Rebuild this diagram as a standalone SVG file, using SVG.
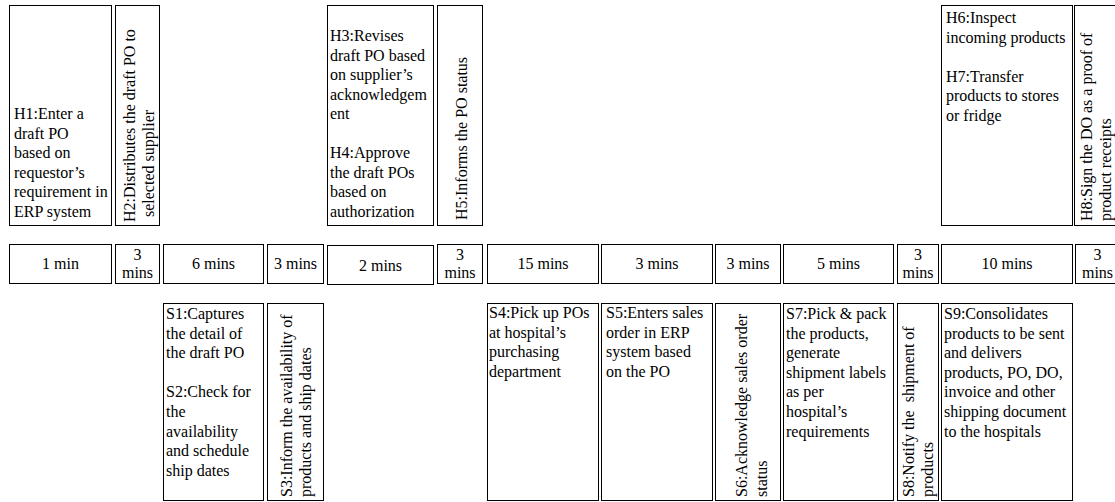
<svg xmlns="http://www.w3.org/2000/svg" width="1115" height="502" viewBox="0 0 1115 502">
  <style>
    .box { fill: #fff; stroke: #000; stroke-width: 1; }
    .t { font-family: "Liberation Serif", "Times New Roman", serif; font-size: 16px; fill: #000; }
    .c { text-anchor: middle; }
  </style>
  <rect width="1115" height="502" fill="#fff"/>

  <!-- Hospital activities (top row) -->
  <g id="h1">
    <rect class="box" x="9.5" y="5.5" width="102" height="220"/>
    <text class="t" x="14" y="119">
      <tspan x="14">H1:Enter a</tspan>
      <tspan x="14" dy="19.6">draft PO</tspan>
      <tspan x="14" dy="19.6">based on</tspan>
      <tspan x="14" dy="19.6">requestor’s</tspan>
      <tspan x="14" dy="19.6">requirement in</tspan>
      <tspan x="14" dy="19.6">ERP system</tspan>
    </text>
  </g>
  <g id="h2">
    <rect class="box" x="115.5" y="5.5" width="44" height="220"/>
    <text class="t" transform="translate(134.5,222) rotate(-90)">
      <tspan x="0" y="0">H2:Distributes the draft PO to</tspan>
      <tspan x="5" y="19.5">selected supplier</tspan>
    </text>
  </g>
  <g id="h3-h4">
    <rect class="box" x="327.5" y="5.5" width="106" height="220"/>
    <text class="t" x="330" y="41">
      <tspan x="330">H3:Revises</tspan>
      <tspan x="330" dy="19.5">draft PO based</tspan>
      <tspan x="330" dy="19.5">on supplier’s</tspan>
      <tspan x="330" dy="19.5">acknowledgem</tspan>
      <tspan x="330" dy="19.5">ent</tspan>
      <tspan x="330" dy="39">H4:Approve</tspan>
      <tspan x="330" dy="19.5">the draft POs</tspan>
      <tspan x="330" dy="19.5">based on</tspan>
      <tspan x="330" dy="19.5">authorization</tspan>
    </text>
  </g>
  <g id="h5">
    <rect class="box" x="437.5" y="5.5" width="45" height="220"/>
    <text class="t" transform="translate(466.5,220) rotate(-90)">H5:Informs the PO status</text>
  </g>
  <g id="h6-h7">
    <rect class="box" x="941.5" y="5.5" width="131" height="220"/>
    <text class="t" x="946" y="23">
      <tspan x="946">H6:Inspect</tspan>
      <tspan x="946" dy="19.5">incoming products</tspan>
      <tspan x="946" dy="39">H7:Transfer</tspan>
      <tspan x="946" dy="19.5">products to stores</tspan>
      <tspan x="946" dy="19.5">or fridge</tspan>
    </text>
  </g>
  <g id="h8">
    <rect class="box" x="1074.5" y="5.5" width="45" height="220"/>
    <text class="t" transform="translate(1091.5,221) rotate(-90)">
      <tspan x="0" y="0">H8:Sign the DO as a proof of</tspan>
      <tspan x="0" y="19">product receipts</tspan>
    </text>
  </g>

  <!-- Durations (middle row) -->
  <g id="time-row">
    <g id="d1">
      <rect class="box" x="9.5" y="244.5" width="102" height="39"/>
      <text class="t c" x="60.5" y="269">1 min</text>
    </g>
    <g id="d2">
      <rect class="box" x="115.5" y="244.5" width="44" height="39"/>
      <text class="t c" x="137.5" y="260">3</text>
      <text class="t c" x="137.5" y="278">mins</text>
    </g>
    <g id="d3">
      <rect class="box" x="163.5" y="244.5" width="100" height="39"/>
      <text class="t c" x="213.5" y="269">6 mins</text>
    </g>
    <g id="d4">
      <rect class="box" x="267.5" y="244.5" width="56" height="39"/>
      <text class="t c" x="295.5" y="269">3 mins</text>
    </g>
    <g id="d5">
      <rect class="box" x="327.5" y="245.5" width="106" height="39"/>
      <text class="t c" x="380.5" y="271">2 mins</text>
    </g>
    <g id="d6">
      <rect class="box" x="437.5" y="244.5" width="45" height="39"/>
      <text class="t c" x="460" y="260">3</text>
      <text class="t c" x="460" y="278">mins</text>
    </g>
    <g id="d7">
      <rect class="box" x="487.5" y="244.5" width="111" height="39"/>
      <text class="t c" x="543" y="269">15 mins</text>
    </g>
    <g id="d8">
      <rect class="box" x="601.5" y="244.5" width="111" height="39"/>
      <text class="t c" x="657" y="269">3 mins</text>
    </g>
    <g id="d9">
      <rect class="box" x="715.5" y="244.5" width="65" height="39"/>
      <text class="t c" x="748" y="269">3 mins</text>
    </g>
    <g id="d10">
      <rect class="box" x="783.5" y="244.5" width="110" height="39"/>
      <text class="t c" x="838.5" y="269">5 mins</text>
    </g>
    <g id="d11">
      <rect class="box" x="897.5" y="244.5" width="41" height="39"/>
      <text class="t c" x="918" y="260">3</text>
      <text class="t c" x="918" y="278">mins</text>
    </g>
    <g id="d12">
      <rect class="box" x="941.5" y="244.5" width="131" height="39"/>
      <text class="t c" x="1007" y="269">10 mins</text>
    </g>
    <g id="d13">
      <rect class="box" x="1075.5" y="244.5" width="44" height="39"/>
      <text class="t c" x="1097.5" y="260">3</text>
      <text class="t c" x="1097.5" y="278">mins</text>
    </g>
  </g>

  <!-- Supplier activities (bottom row) -->
  <g id="s1-s2">
    <rect class="box" x="163.5" y="303.5" width="100" height="197"/>
    <text class="t" x="166" y="319">
      <tspan x="166">S1:Captures</tspan>
      <tspan x="166" dy="19.6">the detail of</tspan>
      <tspan x="166" dy="19.6">the draft PO</tspan>
      <tspan x="166" dy="39.2">S2:Check for</tspan>
      <tspan x="166" dy="19.6">the</tspan>
      <tspan x="166" dy="19.6">availability</tspan>
      <tspan x="166" dy="19.6">and schedule</tspan>
      <tspan x="166" dy="19.6">ship dates</tspan>
    </text>
  </g>
  <g id="s3">
    <rect class="box" x="267.5" y="303.5" width="56" height="197"/>
    <text class="t" transform="translate(291.5,497) rotate(-90)">
      <tspan x="0" y="0">S3:Inform the availability of</tspan>
      <tspan x="0" y="19.5">products and ship dates</tspan>
    </text>
  </g>
  <g id="s4">
    <rect class="box" x="487.5" y="303.5" width="111" height="197"/>
    <text class="t" x="489" y="318">
      <tspan x="489">S4:Pick up POs</tspan>
      <tspan x="489" dy="19.6">at hospital’s</tspan>
      <tspan x="489" dy="19.6">purchasing</tspan>
      <tspan x="489" dy="19.6">department</tspan>
    </text>
  </g>
  <g id="s5">
    <rect class="box" x="601.5" y="303.5" width="111" height="197"/>
    <text class="t" x="606" y="318">
      <tspan x="606">S5:Enters sales</tspan>
      <tspan x="606" dy="19.6">order in ERP</tspan>
      <tspan x="606" dy="19.6">system based</tspan>
      <tspan x="606" dy="19.6">on the PO</tspan>
    </text>
  </g>
  <g id="s6">
    <rect class="box" x="715.5" y="303.5" width="65" height="197"/>
    <text class="t" transform="translate(747,497) rotate(-90)">
      <tspan x="0" y="0">S6:Acknowledge sales order</tspan>
      <tspan x="0" y="19.5">status</tspan>
    </text>
  </g>
  <g id="s7">
    <rect class="box" x="783.5" y="303.5" width="110" height="197"/>
    <text class="t" x="786" y="319">
      <tspan x="786">S7:Pick &amp; pack</tspan>
      <tspan x="786" dy="19.6">the products,</tspan>
      <tspan x="786" dy="19.6">generate</tspan>
      <tspan x="786" dy="19.6">shipment labels</tspan>
      <tspan x="786" dy="19.6">as per</tspan>
      <tspan x="786" dy="19.6">hospital’s</tspan>
      <tspan x="786" dy="19.6">requirements</tspan>
    </text>
  </g>
  <g id="s8">
    <rect class="box" x="897.5" y="303.5" width="41" height="197"/>
    <text class="t" transform="translate(914,497) rotate(-90)">
      <tspan x="0" y="0">S8:Notify the</tspan><tspan dx="8">shipment of</tspan>
      <tspan x="0" y="19">products</tspan>
    </text>
  </g>
  <g id="s9">
    <rect class="box" x="941.5" y="303.5" width="131" height="197"/>
    <text class="t" x="944" y="319">
      <tspan x="944">S9:Consolidates</tspan>
      <tspan x="944" dy="19.6">products to be sent</tspan>
      <tspan x="944" dy="19.6">and delivers</tspan>
      <tspan x="944" dy="19.6">products, PO, DO,</tspan>
      <tspan x="944" dy="19.6">invoice and other</tspan>
      <tspan x="944" dy="19.6">shipping document</tspan>
      <tspan x="944" dy="19.6">to the hospitals</tspan>
    </text>
  </g>
</svg>
